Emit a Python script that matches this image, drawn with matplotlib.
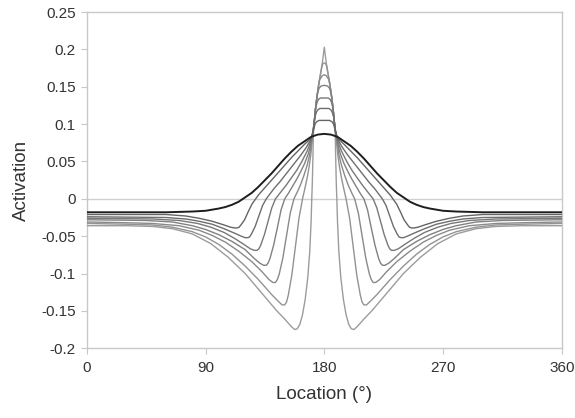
import numpy as np
import matplotlib.pyplot as plt

# half-profiles: offset from 180 deg -> activation
# (the curves are symmetric about 180)
d0 = [0, 5, 10, 15, 20, 25, 30, 35, 40, 45, 50, 55, 60, 65, 70, 75, 80, 90, 100, 120, 180]
v0 = [0.087, 0.086, 0.083, 0.077, 0.071, 0.063, 0.054, 0.044, 0.034, 0.025, 0.016, 0.008, 0.002,
      -0.004, -0.008, -0.011, -0.013, -0.016, -0.017, -0.018, -0.018]

d1 = [0, 4, 6, 7, 8, 10, 15, 20, 25, 30, 35, 40, 45, 50, 52, 54.8, 57.6, 60.4, 63.2, 64.6, 66,
      68, 71, 76, 85, 95, 105, 120, 180]
v1 = [0.105, 0.105, 0.103, 0.1, 0.094, 0.081, 0.073, 0.064, 0.055, 0.045, 0.035, 0.025, 0.015,
      0.005, 0.0, -0.007, -0.017, -0.028, -0.035, -0.038, -0.039, -0.039, -0.038, -0.035, -0.03,
      -0.026, -0.023, -0.021, -0.021]

d2 = [0, 3.5, 5, 6, 7, 7.5, 8.5, 10, 14, 18, 22, 26, 30, 34, 38, 41, 44, 46.8, 49.6, 52.4, 55.2,
      56.6, 58, 60, 63, 68, 76, 85, 95, 105, 120, 180]
v2 = [0.121, 0.121, 0.119, 0.116, 0.11, 0.105, 0.09, 0.08, 0.068, 0.058, 0.049, 0.04, 0.031,
      0.022, 0.014, 0.007, 0.0, -0.009, -0.023, -0.037, -0.047, -0.051, -0.052, -0.052, -0.05,
      -0.046, -0.04, -0.034, -0.03, -0.027, -0.025, -0.024]

d3 = [0, 3, 4.5, 5.5, 6.2, 6.7, 7.5, 8.5, 10, 13, 17, 21, 25, 29, 33, 37, 39.8, 42.6, 45.4, 48.2,
      49.6, 51, 53, 56, 61, 68, 76, 86, 96, 110, 130, 180]
v3 = [0.135, 0.135, 0.133, 0.129, 0.124, 0.12, 0.105, 0.09, 0.078, 0.064, 0.05, 0.038, 0.028,
      0.018, 0.009, 0.0, -0.012, -0.03, -0.048, -0.062, -0.067, -0.069, -0.069, -0.067, -0.061,
      -0.053, -0.045, -0.038, -0.033, -0.029, -0.027, -0.026]

d4 = [0, 2.5, 4, 5, 5.7, 6.7, 7.5, 8.5, 10, 12, 15, 18, 21, 24, 27, 30, 32.8, 35.6, 38.4, 41.2,
      42.6, 44, 46, 49, 53, 60, 70, 80, 90, 100, 115, 135, 180]
v4 = [0.152, 0.151, 0.148, 0.142, 0.135, 0.12, 0.105, 0.09, 0.075, 0.061, 0.047, 0.036, 0.026,
      0.017, 0.008, 0.0, -0.015, -0.039, -0.062, -0.08, -0.086, -0.089, -0.089, -0.086, -0.08,
      -0.068, -0.057, -0.048, -0.041, -0.036, -0.031, -0.029, -0.028]

d5 = [0, 1.5, 2.5, 3.5, 4.5, 5.7, 6.7, 7.5, 8.5, 9.5, 11, 13, 15.5, 18, 20.5, 23, 25.8, 28.6, 31.4,
      34.2, 35.6, 37, 39, 42, 47, 55, 65, 75, 85, 95, 110, 130, 150, 180]
v5 = [0.166, 0.165, 0.162, 0.16, 0.15, 0.135, 0.12, 0.105, 0.09, 0.077, 0.06, 0.045, 0.031, 0.019,
      0.009, 0.0, -0.019, -0.049, -0.079, -0.101, -0.108, -0.112, -0.112, -0.108, -0.098, -0.084,
      -0.07, -0.058, -0.049, -0.042, -0.036, -0.033, -0.032, -0.031]

d6 = [0, 1, 1.7, 3, 4.5, 5.7, 6.7, 7.5, 8.5, 9.3, 10.3, 11.5, 13, 14.7, 16.5, 19.2, 21.9, 24.6,
      27.3, 28.6, 30, 32, 35, 40, 50, 60, 70, 80, 90, 100, 115, 130, 150, 180]
v6 = [0.182, 0.181, 0.178, 0.166, 0.15, 0.135, 0.12, 0.105, 0.09, 0.075, 0.058, 0.043, 0.028,
      0.014, 0.0, -0.026, -0.064, -0.102, -0.129, -0.138, -0.142, -0.142, -0.137, -0.128, -0.108,
      -0.09, -0.074, -0.061, -0.051, -0.044, -0.038, -0.035, -0.034, -0.033]

d7 = [0, 1.5, 3, 4.5, 5.7, 6.7, 7.5, 8.3, 8.7, 9.1, 9.5, 10, 11, 12.5, 14.5, 16.5, 18.5, 20.5, 22.5,
      25, 30, 36, 48, 60, 73, 86, 100, 115, 130, 150, 180]
v7 = [0.203, 0.182, 0.166, 0.15, 0.135, 0.12, 0.105, 0.085, 0.05, 0.02, 0.0, -0.03, -0.07, -0.105,
      -0.135, -0.155, -0.168, -0.174, -0.175, -0.171, -0.161, -0.15, -0.125, -0.1, -0.078, -0.06,
      -0.047, -0.04, -0.037, -0.036, -0.036]

offsets = [d0, d1, d2, d3, d4, d5, d6, d7]
values = [v0, v1, v2, v3, v4, v5, v6, v7]
colors = ['#1e1e1e', '#656565', '#6e6e6e', '#787878', '#818181', '#8a8a8a', '#939393', '#9c9c9c']

xticks = [0, 90, 180, 270, 360]
yticks = [0.25, 0.2, 0.15, 0.1, 0.05, 0, -0.05, -0.1, -0.15, -0.2]
ytick_labels = ['0.25', '0.2', '0.15', '0.1', '0.05', '0', '-0.05', '-0.1', '-0.15', '-0.2']

plt.rcParams['font.family'] = ['Liberation Sans', 'DejaVu Sans']

fig = plt.figure(figsize=(5.75, 4.18), dpi=100)
ax = fig.add_axes([0.151, 0.167, 0.826, 0.804])

ax.axhline(0, color='#d0d0d0', lw=1.0, zorder=1)

# draw lighter curves first, dark (broadest) one on top
for k in range(len(offsets) - 1, -1, -1):
    d = np.array(offsets[k], dtype=float)
    v = np.array(values[k], dtype=float)
    x = np.concatenate([180 - d[::-1], 180 + d[1:]])
    y = np.concatenate([v[::-1], v[1:]])
    ax.plot(x, y, color=colors[k], lw=1.4 if k == 0 else 1.0, zorder=2 + (len(offsets) - k))

ax.set_xlim(0, 360)
ax.set_ylim(-0.2, 0.25)
ax.set_xticks(xticks)
ax.set_xticklabels([str(t) for t in xticks])
ax.set_yticks(yticks)
ax.set_yticklabels(ytick_labels)

for s in ax.spines.values():
    s.set_color('#c8c8c8')
    s.set_linewidth(1.0)
ax.tick_params(axis='both', colors='#c8c8c8', labelcolor='#333333', labelsize=11, length=4)
ax.tick_params(axis='x', pad=5)
ax.tick_params(axis='y', pad=4)

ax.set_xlabel('Location (°)', fontsize=13.5, color='#333333', labelpad=8)
ax.set_ylabel('Activation', fontsize=13.5, color='#333333', labelpad=8)

fig.savefig('out.png', dpi=100)
